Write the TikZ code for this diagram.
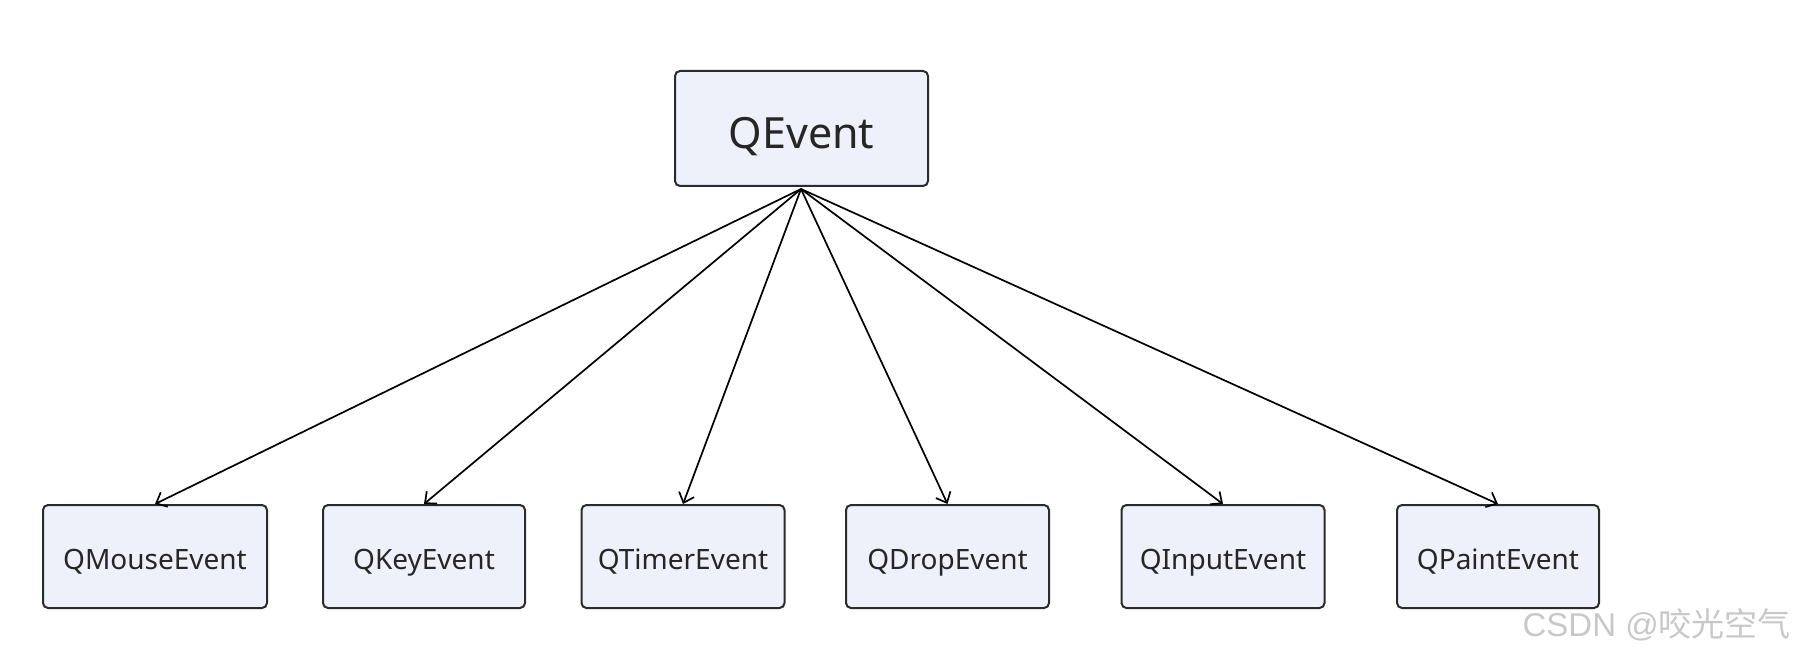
\documentclass[tikz,border=0pt]{standalone}
\usepackage{fontspec}
\setmainfont{Noto Sans}
\newfontfamily\cjkfont{Noto Sans CJK SC}
\newfontfamily\wmfont{Liberation Sans}
\usetikzlibrary{arrows.meta}
\definecolor{boxfill}{HTML}{EEF1FA}
\definecolor{boxline}{HTML}{2B2B2B}
\definecolor{wmgray}{HTML}{C8C8C8}
\tikzset{
  cls/.style={draw=boxline, line width=2pt, fill=boxfill, rounded corners=5pt,
    inner sep=0pt, font=\fontsize{28}{32}\selectfont, text=black!85,
    text height=25pt, text depth=0pt},
  topcls/.style={cls, font=\fontsize{43}{48}\selectfont, text height=40pt, text depth=0pt},
  inh/.style={draw=black, line width=1.7pt, -{Straight Barb[length=9pt,width=16pt,line width=1.7pt]}}
}
\begin{document}
\begin{tikzpicture}[x=1pt,y=-1pt]
\useasboundingbox (0,0) rectangle (1795,655);
\node[topcls, minimum width=253pt, minimum height=115pt] (qe) at (801.5,128.5) {QEvent};
\coordinate (src) at (801,189);
\node[cls, minimum width=224pt, minimum height=103pt] (m) at (155,556.5) {QMouseEvent};
\node[cls, minimum width=202pt, minimum height=103pt] (k) at (424,556.5) {QKeyEvent};
\node[cls, minimum width=203pt, minimum height=103pt] (t) at (683,556.5) {QTimerEvent};
\node[cls, minimum width=203pt, minimum height=103pt] (d) at (947.5,556.5) {QDropEvent};
\node[cls, minimum width=203pt, minimum height=103pt] (i) at (1223,556.5) {QInputEvent};
\node[cls, minimum width=202pt, minimum height=103pt] (p) at (1498,556.5) {QPaintEvent};
\foreach \n in {m,k,t,d,i,p}{
  \draw[inh] (src) -- (\n.north);
}
\node[anchor=east, text=wmgray, inner sep=0pt, font=\fontsize{33}{36}\selectfont] (wm) at (1791,625) {\wmfont CSDN @\cjkfont 咬光空气};
\end{tikzpicture}
\end{document}
